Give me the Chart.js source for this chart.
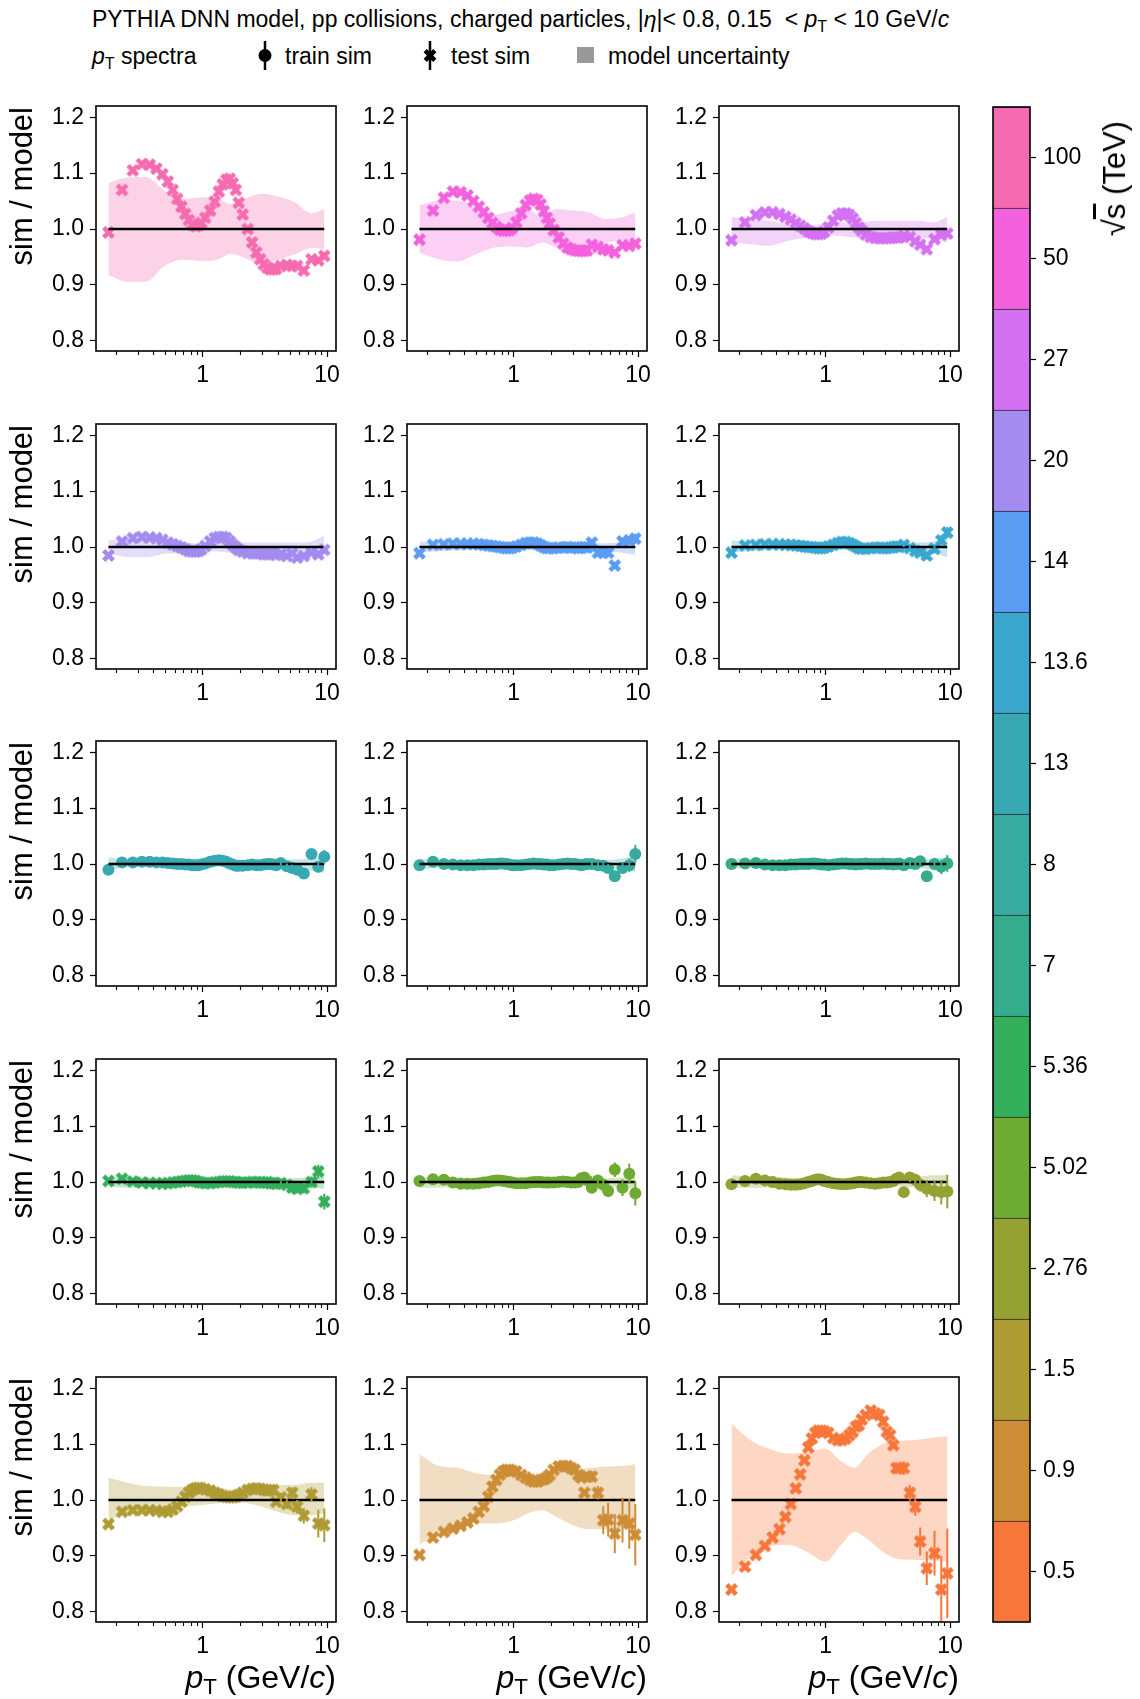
<!DOCTYPE html>
<html>
<head>
<meta charset="utf-8">
<script src="https://cdn.jsdelivr.net/npm/chart.js@4.4.1/dist/chart.umd.min.js"></script>
<style>
  body { margin: 0; background: #fff; width: 1140px; height: 1699px; position: relative; overflow: hidden;
         font-family: "Liberation Sans", Arial, sans-serif; color: #000; }
  canvas { position: absolute; }
  .txt { position: absolute; white-space: nowrap; line-height: 1; }
  .sub { font-size: 70%; position: relative; top: 0.28em; }
  .vlab { position: absolute; white-space: nowrap; line-height: 1; writing-mode: vertical-rl; transform: rotate(180deg); }
</style>
</head>
<body>
<div class="txt" style="left:92px; top:8px; font-size:23px;">PYTHIA DNN model, pp collisions, charged particles, |<i>η</i>|&lt; 0.8, 0.15 &nbsp;&lt; <i>p</i><span class="sub">T</span> &lt; 10 GeV/<i>c</i></div>
<div class="txt" style="left:92px; top:45px; font-size:23px;"><i>p</i><span class="sub">T</span> spectra</div>
<div class="txt" style="left:285px; top:45px; font-size:23px;">train sim</div>
<div class="txt" style="left:451px; top:45px; font-size:23px;">test sim</div>
<div class="txt" style="left:608px; top:45px; font-size:23px;">model uncertainty</div>
<svg id="legendMarks" width="1140" height="90" style="position:absolute;left:0;top:0"></svg>
<script>
// pT bin centres (GeV/c) shared by every panel
const ptBins = [0.175, 0.225, 0.275, 0.325, 0.375, 0.425, 0.475, 0.525, 0.575, 0.625,
                0.675, 0.725, 0.775, 0.825, 0.875, 0.925, 0.975,
                1.05, 1.15, 1.25, 1.35, 1.45, 1.55, 1.65, 1.75, 1.85, 1.95,
                2.1, 2.3, 2.5, 2.7, 2.9, 3.1, 3.3, 3.5, 3.7, 3.9,
                4.25, 4.75, 5.25, 5.75, 6.5, 7.5, 8.5, 9.5];
// grid on which the model uncertainty band is given
const bandPt = [0.175, 0.25, 0.35, 0.5, 0.7, 1.0, 1.3, 1.7, 2.2, 3.0, 4.0, 5.5, 7.5, 9.5];

const energyLabels = ['100', '50', '27', '20', '14', '13.6', '13', '8', '7', '5.36', '5.02', '2.76', '1.5', '0.9', '0.5'];
const energyColors = ['#f66baf', '#f461dd', '#d471f2', '#a38bf0', '#5b9cf3', '#3aa7cf', '#38a9b3', '#37ab9f',
                      '#35ad8c', '#33ae5b', '#6dab33', '#94a133', '#ae9b33', '#cd8d36', '#f7763a'];
// 'X' = test sim, 'o' = train sim
const markerKind = ['X', 'X', 'X', 'X', 'X', 'X', 'o', 'o', 'o', 'X', 'o', 'o', 'X', 'X', 'X'];

const yTicks = [0.8, 0.9, 1.0, 1.1, 1.2];
const xTicks = [1, 10];
const xMinorTicks = [0.2, 0.3, 0.4, 0.5, 0.6, 0.7, 0.8, 0.9, 2, 3, 4, 5, 6, 7, 8, 9];

// sim / model ratios per collision energy
const r100 = [0.994, 1.070, 1.105, 1.116, 1.115, 1.108, 1.098, 1.085, 1.070, 1.054,
              1.040, 1.027, 1.016, 1.008, 1.005, 1.007, 1.011,
              1.020, 1.033, 1.049, 1.067, 1.080, 1.088, 1.090, 1.082, 1.070, 1.047,
              1.026, 1.000, 0.976, 0.958, 0.946, 0.937, 0.931, 0.928, 0.928, 0.929,
              0.934, 0.936, 0.934, 0.934, 0.926, 0.946, 0.944, 0.952];
const r50 = [0.981, 1.033, 1.056, 1.067, 1.066, 1.060, 1.050, 1.040, 1.030, 1.020,
             1.011, 1.004, 0.999, 0.997, 0.997, 0.998, 1.002,
             1.012, 1.028, 1.043, 1.051, 1.054, 1.052, 1.044, 1.032, 1.020, 1.010,
             0.998, 0.985, 0.974, 0.967, 0.964, 0.962, 0.961, 0.961, 0.961, 0.962,
             0.972, 0.968, 0.964, 0.962, 0.958, 0.971, 0.970, 0.974];
const r27 = [0.980, 1.012, 1.025, 1.030, 1.030, 1.027, 1.022, 1.017, 1.011, 1.006,
             1.001, 0.996, 0.993, 0.991, 0.991, 0.992, 0.995,
             1.003, 1.015, 1.024, 1.028, 1.028, 1.025, 1.019, 1.011, 1.003, 0.997,
             0.990, 0.986, 0.984, 0.984, 0.984, 0.984, 0.984, 0.985, 0.985, 0.985,
             0.988, 0.986, 0.978, 0.972, 0.964, 0.982, 0.990, 0.992];
const r20 = [0.985, 1.010, 1.016, 1.018, 1.017, 1.016, 1.013, 1.008, 1.005, 1.002,
             0.999, 0.996, 0.993, 0.992, 0.992, 0.993, 0.996,
             1.002, 1.010, 1.016, 1.018, 1.018, 1.016, 1.010, 1.004, 0.999, 0.995,
             0.992, 0.989, 0.989, 0.989, 0.989, 0.987, 0.987, 0.989, 0.989, 0.986,
             0.987, 0.984, 0.989, 0.981, 0.984, 0.990, 0.987, 0.995];
const r14 = [0.989, 1.004, 1.005, 1.006, 1.006, 1.006, 1.006, 1.005, 1.004, 1.003,
             1.002, 1.001, 1.000, 0.999, 0.998, 0.998, 0.999,
             1.001, 1.004, 1.007, 1.008, 1.008, 1.006, 1.003, 1.000, 0.998, 0.998,
             0.998, 0.999, 0.999, 1.000, 0.999, 0.999, 0.998, 0.999, 1.000, 0.999,
             1.008, 0.990, 0.990, 0.990, 0.967, 1.010, 1.012, 1.015];
const r136 = [0.990, 1.003, 1.004, 1.005, 1.005, 1.005, 1.004, 1.004, 1.003, 1.002,
              1.001, 1.000, 1.000, 0.999, 0.998, 0.998, 0.999,
              1.001, 1.004, 1.007, 1.009, 1.009, 1.007, 1.004, 1.001, 0.998, 0.997,
              0.997, 0.998, 0.999, 0.999, 0.998, 0.998, 0.999, 1.000, 1.001, 1.000,
              1.004, 0.998, 0.993, 0.990, 0.985, 0.997, 1.012, 1.026];
const r13 = [0.990, 1.003, 1.003, 1.004, 1.004, 1.003, 1.003, 1.002, 1.001, 1.000,
             1.000, 0.999, 0.999, 0.998, 0.998, 0.998, 0.999,
             1.001, 1.004, 1.006, 1.007, 1.006, 1.004, 1.001, 0.999, 0.997, 0.997,
             0.997, 0.998, 0.999, 0.998, 0.998, 0.999, 1.000, 1.000, 0.999, 0.998,
             1.002, 0.996, 0.993, 0.990, 0.983, 1.018, 0.995, 1.013];
const r8 = [0.998, 1.004, 1.000, 0.999, 0.998, 0.998, 0.998, 0.999, 0.999, 1.000,
            1.000, 1.000, 1.001, 1.001, 1.000, 0.999, 0.998,
            0.998, 0.998, 0.999, 1.000, 1.001, 1.000, 1.000, 0.999, 0.999, 0.998,
            0.998, 0.999, 1.000, 1.001, 1.000, 1.000, 0.999, 0.998, 0.999, 1.000,
            1.000, 0.998, 0.997, 0.993, 0.978, 0.993, 0.998, 1.018];
const r7 = [1.000, 1.001, 1.002, 0.999, 0.998, 0.998, 0.998, 0.999, 0.999, 1.000,
            1.000, 1.000, 1.001, 1.001, 1.000, 0.999, 0.999,
            0.998, 0.999, 1.000, 1.001, 1.001, 1.000, 1.000, 0.999, 1.000, 1.000,
            1.001, 1.000, 1.000, 1.000, 1.001, 1.000, 1.000, 0.999, 1.000, 1.001,
            0.998, 1.002, 1.000, 1.005, 0.978, 1.000, 0.995, 1.001];
const r536 = [1.002, 1.006, 1.001, 0.999, 0.998, 0.998, 0.997, 0.998, 0.999, 1.000,
              1.001, 1.002, 1.003, 1.003, 1.002, 1.000, 0.999,
              0.998, 0.998, 0.999, 1.000, 1.001, 1.001, 1.001, 1.000, 1.000, 0.999,
              0.999, 0.999, 1.000, 1.000, 0.999, 0.999, 1.000, 0.998, 0.998, 0.997,
              0.998, 0.995, 0.990, 0.988, 0.989, 1.000, 1.019, 0.965];
const r502 = [1.002, 1.005, 1.004, 0.999, 0.997, 0.997, 0.997, 0.998, 0.999, 1.000,
              1.002, 1.003, 1.003, 1.002, 1.001, 1.000, 0.999,
              0.998, 0.998, 0.998, 0.999, 1.000, 1.000, 1.000, 0.999, 0.999, 0.999,
              0.999, 1.000, 1.001, 1.000, 0.999, 0.999, 1.000, 1.007, 1.008, 1.003,
              0.990, 1.003, 0.995, 0.984, 1.022, 0.990, 1.015, 0.980];
const r276 = [0.996, 1.002, 1.006, 1.003, 1.000, 0.997, 0.996, 0.995, 0.995, 0.996,
              0.998, 1.000, 1.002, 1.004, 1.005, 1.004, 1.002,
              1.000, 0.998, 0.997, 0.996, 0.996, 0.997, 0.998, 0.999, 1.000, 1.000,
              0.999, 0.998, 0.997, 0.998, 0.999, 0.999, 1.000, 1.002, 1.006, 1.008,
              0.982, 1.008, 1.004, 0.995, 0.988, 0.984, 0.982, 0.983];
const r15 = [0.957, 0.979, 0.982, 0.982, 0.982, 0.981, 0.979, 0.979, 0.983, 0.989,
             0.997, 1.006, 1.013, 1.018, 1.021, 1.022, 1.021,
             1.019, 1.017, 1.013, 1.010, 1.007, 1.006, 1.005, 1.005, 1.006, 1.009,
             1.013, 1.018, 1.020, 1.021, 1.020, 1.018, 1.017, 1.018, 1.018, 0.997,
             1.005, 0.993, 1.013, 0.988, 0.972, 1.010, 0.958, 0.955];
const r09 = [0.902, 0.933, 0.943, 0.949, 0.954, 0.960, 0.967, 0.979, 0.989, 1.006,
             1.024, 1.036, 1.045, 1.051, 1.054, 1.054, 1.052,
             1.051, 1.045, 1.040, 1.036, 1.033, 1.033, 1.036, 1.037, 1.040, 1.045,
             1.054, 1.060, 1.061, 1.061, 1.057, 1.054, 1.045, 1.040, 1.013, 1.042,
             1.042, 1.013, 0.964, 0.965, 0.940, 0.964, 0.958, 0.938];
const r05 = [0.840, 0.881, 0.902, 0.918, 0.933, 0.948, 0.970, 0.993, 1.021, 1.046,
             1.071, 1.094, 1.110, 1.120, 1.124, 1.124, 1.123,
             1.120, 1.111, 1.107, 1.107, 1.110, 1.116, 1.122, 1.131, 1.134, 1.144,
             1.152, 1.160, 1.155, 1.152, 1.140, 1.122, 1.116, 1.098, 1.057, 1.057,
             1.057, 1.013, 0.988, 0.926, 0.878, 0.905, 0.840, 0.869];

// statistical errors of the high-pT bins (4.25 ... 9.5 GeV/c)
const e100 = [0.003, 0.003, 0.004, 0.004, 0.005, 0.005, 0.006, 0.007];
const e50 = [0.003, 0.003, 0.004, 0.004, 0.005, 0.005, 0.006, 0.007];
const e27 = [0.003, 0.003, 0.004, 0.004, 0.005, 0.005, 0.006, 0.006];
const e20 = [0.003, 0.004, 0.004, 0.005, 0.005, 0.006, 0.006, 0.007];
const e14 = [0.004, 0.004, 0.005, 0.005, 0.006, 0.007, 0.008, 0.009];
const e136 = [0.004, 0.004, 0.005, 0.006, 0.007, 0.008, 0.009, 0.010];
const e13 = [0.004, 0.005, 0.006, 0.007, 0.008, 0.009, 0.010, 0.012];
const e8 = [0.004, 0.005, 0.006, 0.007, 0.008, 0.010, 0.012, 0.016];
const e7 = [0.004, 0.005, 0.006, 0.007, 0.009, 0.011, 0.013, 0.015];
const e536 = [0.005, 0.006, 0.007, 0.008, 0.009, 0.010, 0.012, 0.014];
const e502 = [0.006, 0.008, 0.009, 0.011, 0.013, 0.015, 0.018, 0.022];
const e276 = [0.006, 0.008, 0.010, 0.012, 0.015, 0.018, 0.022, 0.030];
const e15 = [0.008, 0.009, 0.010, 0.012, 0.014, 0.013, 0.025, 0.030];
const e09 = [0.010, 0.012, 0.025, 0.030, 0.035, 0.040, 0.045, 0.055];
const e05 = [0.012, 0.014, 0.016, 0.025, 0.030, 0.040, 0.060, 0.080];

// model uncertainty band (upper / lower edge on bandPt)
const up100 = [1.082, 1.092, 1.093, 1.068, 1.054, 1.057, 1.055, 1.045, 1.055, 1.063, 1.058, 1.048, 1.028, 1.036];
const lo100 = [0.918, 0.906, 0.906, 0.935, 0.945, 0.943, 0.945, 0.956, 0.948, 0.937, 0.945, 0.955, 0.966, 0.964];
const up50 = [1.042, 1.051, 1.051, 1.039, 1.026, 1.033, 1.036, 1.021, 1.036, 1.033, 1.030, 1.018, 1.021, 1.030];
const lo50 = [0.958, 0.946, 0.942, 0.955, 0.967, 0.969, 0.967, 0.976, 0.967, 0.964, 0.970, 0.976, 0.979, 0.982];
const up27 = [1.021, 1.018, 1.015, 1.009, 1.006, 1.010, 1.012, 1.009, 1.014, 1.015, 1.015, 1.015, 1.012, 1.022];
const lo27 = [0.976, 0.973, 0.970, 0.979, 0.985, 0.989, 0.988, 0.985, 0.985, 0.982, 0.985, 0.985, 0.982, 0.976];
const up20 = [1.012, 1.015, 1.014, 1.010, 1.008, 1.006, 1.008, 1.010, 1.008, 1.008, 1.008, 1.008, 1.010, 1.020];
const lo20 = [0.990, 0.982, 0.982, 0.988, 0.990, 0.992, 0.992, 0.990, 0.990, 0.992, 0.992, 0.990, 0.988, 0.985];
const up14 = [1.010, 1.008, 1.007, 1.006, 1.005, 1.005, 1.006, 1.006, 1.005, 1.005, 1.006, 1.007, 1.008, 1.012];
const lo14 = [0.990, 0.993, 0.994, 0.995, 0.995, 0.995, 0.995, 0.995, 0.995, 0.995, 0.994, 0.993, 0.990, 0.986];
const up136 = [1.012, 1.008, 1.007, 1.006, 1.005, 1.005, 1.006, 1.006, 1.005, 1.005, 1.006, 1.008, 1.010, 1.016];
const lo136 = [0.990, 0.993, 0.994, 0.995, 0.995, 0.995, 0.995, 0.995, 0.995, 0.995, 0.994, 0.992, 0.988, 0.982];
const up13 = [1.012, 1.008, 1.006, 1.005, 1.005, 1.005, 1.006, 1.006, 1.005, 1.005, 1.006, 1.008, 1.010, 1.014];
const lo13 = [0.990, 0.994, 0.995, 0.996, 0.996, 0.996, 0.996, 0.996, 0.996, 0.995, 0.994, 0.992, 0.988, 0.984];
const up8 = [1.010, 1.007, 1.006, 1.005, 1.005, 1.005, 1.005, 1.005, 1.005, 1.005, 1.006, 1.007, 1.010, 1.014];
const lo8 = [0.990, 0.994, 0.995, 0.996, 0.996, 0.996, 0.996, 0.996, 0.996, 0.995, 0.994, 0.993, 0.990, 0.986];
const up7 = [1.010, 1.008, 1.006, 1.005, 1.005, 1.005, 1.005, 1.005, 1.005, 1.005, 1.006, 1.007, 1.010, 1.012];
const lo7 = [0.992, 0.994, 0.995, 0.996, 0.996, 0.996, 0.996, 0.996, 0.996, 0.995, 0.994, 0.993, 0.990, 0.988];
const up536 = [1.008, 1.008, 1.008, 1.006, 1.005, 1.005, 1.005, 1.005, 1.005, 1.005, 1.006, 1.007, 1.008, 1.010];
const lo536 = [0.992, 0.990, 0.992, 0.994, 0.995, 0.995, 0.995, 0.995, 0.995, 0.995, 0.994, 0.993, 0.990, 0.988];
const up502 = [1.008, 1.010, 1.009, 1.006, 1.005, 1.005, 1.005, 1.005, 1.005, 1.005, 1.006, 1.007, 1.008, 1.010];
const lo502 = [0.990, 0.990, 0.992, 0.994, 0.995, 0.995, 0.995, 0.995, 0.995, 0.995, 0.994, 0.993, 0.990, 0.988];
const up276 = [1.012, 1.010, 1.010, 1.008, 1.006, 1.005, 1.005, 1.005, 1.005, 1.006, 1.008, 1.010, 1.012, 1.012];
const lo276 = [0.990, 0.990, 0.990, 0.992, 0.994, 0.995, 0.995, 0.995, 0.995, 0.994, 0.992, 0.990, 0.988, 0.988];
const up15 = [1.040, 1.031, 1.025, 1.024, 1.024, 1.024, 1.023, 1.019, 1.024, 1.027, 1.027, 1.027, 1.031, 1.031];
const lo15 = [0.964, 0.976, 0.982, 0.985, 0.988, 0.991, 0.994, 0.997, 0.995, 0.988, 0.979, 0.973, 0.973, 0.976];
const up09 = [1.082, 1.061, 1.058, 1.048, 1.045, 1.045, 1.048, 1.037, 1.048, 1.055, 1.057, 1.060, 1.061, 1.064];
const lo09 = [0.920, 0.940, 0.952, 0.958, 0.958, 0.964, 0.976, 0.982, 0.970, 0.955, 0.948, 0.948, 0.949, 0.949];
const up05 = [1.137, 1.107, 1.092, 1.083, 1.085, 1.092, 1.071, 1.058, 1.083, 1.102, 1.106, 1.108, 1.112, 1.114];
const lo05 = [0.864, 0.899, 0.917, 0.920, 0.908, 0.890, 0.917, 0.943, 0.929, 0.905, 0.894, 0.893, 0.892, 0.890];

const ratios = [r100, r50, r27, r20, r14, r136, r13, r8, r7, r536, r502, r276, r15, r09, r05];
const errTails = [e100, e50, e27, e20, e14, e136, e13, e8, e7, e536, e502, e276, e15, e09, e05];
const bandUp = [up100, up50, up27, up20, up14, up136, up13, up8, up7, up536, up502, up276, up15, up09, up05];
const bandLo = [lo100, lo50, lo27, lo20, lo14, lo136, lo13, lo8, lo7, lo536, lo502, lo276, lo15, lo09, lo05];

const FONT = '"Liberation Sans", Arial, sans-serif';
const TICK_FONT = 23;
Chart.defaults.font.family = FONT;
Chart.defaults.color = '#000';

// plot area of each panel in page pixels
const PLOT_W = 240, PLOT_H = 245;
const colLeft = [96, 407, 719];
const rowTop = [106, 424, 741, 1059, 1377];
const PAD_L = 70, PAD_T = 10;

function withAlpha(hex, a) {
    const n = parseInt(hex.slice(1), 16);
    return 'rgba(' + (n >> 16) + ',' + ((n >> 8) & 255) + ',' + (n & 255) + ',' + a + ')';
}

// keep the plot area fixed: no extra room for overhanging tick labels
function noOverhang(s) {
    s.paddingTop = 0; s.paddingBottom = 0; s.paddingLeft = 0; s.paddingRight = 0;
}

// filled "X" marker, same outline as matplotlib's 'X'
const X_VERTS = [[-1, -2], [0, -1], [1, -2], [2, -1], [1, 0], [2, 1], [1, 2], [0, 1], [-1, 2], [-2, 1], [-1, 0], [-2, -1]];
function makeXMarker(color, k) {
    const size = Math.ceil(4 * k) + 2;
    const c = document.createElement('canvas');
    c.width = size; c.height = size;
    const g = c.getContext('2d');
    const m = size / 2;
    g.fillStyle = color;
    g.beginPath();
    X_VERTS.forEach(([a, b], i) => i ? g.lineTo(m + a * k, m + b * k) : g.moveTo(m + a * k, m + b * k));
    g.closePath();
    g.fill();
    return c;
}

// frame, minor x ticks and error bars
const panelDecor = {
    id: 'panelDecor',
    afterDatasetsDraw(chart, args, opts) {
        const ctx = chart.ctx, a = chart.chartArea, ys = chart.scales.y;
        const meta = chart.getDatasetMeta(3);
        ctx.save();
        ctx.beginPath();
        ctx.rect(a.left, a.top, a.right - a.left, a.bottom - a.top);
        ctx.clip();
        ctx.strokeStyle = opts.color;
        ctx.lineWidth = 2;
        opts.err.forEach((e, i) => {
            if (!e) return;
            const p = meta.data[i];
            ctx.beginPath();
            ctx.moveTo(p.x, ys.getPixelForValue(opts.vals[i] - e));
            ctx.lineTo(p.x, ys.getPixelForValue(opts.vals[i] + e));
            ctx.stroke();
        });
        ctx.restore();
    },
    afterDraw(chart) {
        const ctx = chart.ctx, a = chart.chartArea, xs = chart.scales.x;
        ctx.save();
        ctx.strokeStyle = '#000';
        ctx.lineWidth = 1.1;
        xMinorTicks.forEach(v => {
            const px = Math.round(xs.getPixelForValue(v)) + 0.5;
            ctx.beginPath();
            ctx.moveTo(px, a.bottom);
            ctx.lineTo(px, a.bottom + 4);
            ctx.stroke();
        });
        ctx.lineWidth = 1.6;
        ctx.strokeRect(a.left, a.top, a.right - a.left, a.bottom - a.top);
        ctx.restore();
    }
};

function drawPanel(idx) {
    const row = Math.floor(idx / 3), col = idx % 3;
    const cv = document.createElement('canvas');
    cv.width = PAD_L + PLOT_W + 15;
    cv.height = PAD_T + PLOT_H + 45;
    cv.style.left = (colLeft[col] - PAD_L) + 'px';
    cv.style.top = (rowTop[row] - PAD_T) + 'px';
    document.body.appendChild(cv);

    const color = energyColors[idx];
    const vals = ratios[idx];
    const tail = errTails[idx];
    const err = ptBins.map((_, i) => {
        const k = i - (ptBins.length - tail.length);
        return k >= 0 ? tail[k] : 0;
    });
    const style = markerKind[idx] === 'X' ? makeXMarker(color, 3.2) : 'circle';

    new Chart(cv, {
        type: 'scatter',
        data: {
            datasets: [
                {
                    data: bandPt.map((x, i) => ({ x, y: bandUp[idx][i] })),
                    showLine: true, fill: '+1', backgroundColor: withAlpha(color, 0.3),
                    borderColor: 'transparent', borderWidth: 0, pointRadius: 0,
                    cubicInterpolationMode: 'monotone', order: 3
                },
                {
                    data: bandPt.map((x, i) => ({ x, y: bandLo[idx][i] })),
                    showLine: true, fill: false,
                    borderColor: 'transparent', borderWidth: 0, pointRadius: 0,
                    cubicInterpolationMode: 'monotone', order: 3
                },
                {
                    data: [{ x: ptBins[0], y: 1 }, { x: ptBins[ptBins.length - 1], y: 1 }],
                    showLine: true, borderColor: '#000', borderWidth: 2.6, pointRadius: 0, order: 0
                },
                {
                    data: ptBins.map((x, i) => ({ x, y: vals[i] })),
                    pointStyle: style, pointRadius: 6,
                    backgroundColor: color, borderColor: color, borderWidth: 0, order: 1
                }
            ]
        },
        options: {
            responsive: false,
            animation: false,
            events: [],
            layout: { padding: { left: 10, top: PAD_T, right: 15, bottom: 5 } },
            plugins: {
                legend: { display: false },
                tooltip: { enabled: false },
                panelDecor: { color, vals, err }
            },
            scales: {
                x: {
                    type: 'logarithmic', min: 0.139, max: 11.8,
                    afterBuildTicks: s => { s.ticks = xTicks.map(v => ({ value: v })); },
                    afterFit: s => { s.height = 40; noOverhang(s); },
                    ticks: { callback: v => String(v), font: { size: TICK_FONT }, padding: 5, maxRotation: 0, autoSkip: false },
                    grid: { drawOnChartArea: false, drawTicks: true, tickLength: 6, tickColor: '#000', tickWidth: 1.2 },
                    border: { display: false }
                },
                y: {
                    min: 0.782, max: 1.22,
                    afterBuildTicks: s => { s.ticks = yTicks.map(v => ({ value: v })); },
                    afterFit: s => { s.width = 60; noOverhang(s); },
                    ticks: { callback: v => v.toFixed(1), font: { size: TICK_FONT }, padding: 6 },
                    grid: { drawOnChartArea: false, drawTicks: true, tickLength: 6, tickColor: '#000', tickWidth: 1.2 },
                    border: { display: false }
                }
            }
        },
        plugins: [panelDecor]
    });
}

for (let i = 0; i < ratios.length; i++) drawPanel(i);

// axis titles
for (let r = 0; r < rowTop.length; r++) {
    const d = document.createElement('div');
    d.className = 'vlab';
    d.style.left = '6px';
    d.style.top = (rowTop[r] + 1) + 'px';
    d.style.fontSize = '31px';
    d.textContent = 'sim / model';
    document.body.appendChild(d);
}
for (let c = 0; c < colLeft.length; c++) {
    const d = document.createElement('div');
    d.className = 'txt';
    d.style.left = (colLeft[c] + PLOT_W - 300) + 'px';
    d.style.width = '300px';
    d.style.textAlign = 'right';
    d.style.top = '1661px';
    d.style.fontSize = '32px';
    d.innerHTML = '<i>p</i><span class="sub">T</span> (GeV/<i>c</i>)';
    document.body.appendChild(d);
}

// colour bar: one stacked segment per energy, lowest energy at the bottom
const cbLabels = energyLabels.slice().reverse();
const cbColors = energyColors.slice().reverse();
const CB_LEFT = 993, CB_TOP = 107, CB_W = 37, CB_H = 1515;
const cbFrame = {
    id: 'cbFrame',
    afterDraw(chart) {
        const ctx = chart.ctx, a = chart.chartArea;
        ctx.save();
        ctx.strokeStyle = '#000';
        ctx.lineWidth = 1.6;
        ctx.strokeRect(a.left, a.top, a.right - a.left, a.bottom - a.top);
        ctx.restore();
    }
};
const cbCanvas = document.createElement('canvas');
cbCanvas.width = 10 + CB_W + 70 + 5;
cbCanvas.height = CB_H + 20;
cbCanvas.style.left = (CB_LEFT - 10) + 'px';
cbCanvas.style.top = (CB_TOP - 10) + 'px';
document.body.appendChild(cbCanvas);
new Chart(cbCanvas, {
    type: 'bar',
    data: {
        labels: [''],
        datasets: cbLabels.map((e, i) => ({
            label: e, data: [1], backgroundColor: cbColors[i],
            borderColor: '#2a2a2a', borderWidth: { top: 1, bottom: 0, left: 0, right: 0 }, borderSkipped: false,
            barPercentage: 1, categoryPercentage: 1
        }))
    },
    options: {
        responsive: false,
        animation: false,
        events: [],
        layout: { padding: { left: 10, top: 10, right: 5, bottom: 10 } },
        plugins: { legend: { display: false }, tooltip: { enabled: false } },
        scales: {
            x: { stacked: true, display: false },
            y: {
                stacked: true, position: 'right', min: 0, max: cbLabels.length,
                afterBuildTicks: s => { s.ticks = cbLabels.map((e, i) => ({ value: i + 0.5 })); },
                afterFit: s => { s.width = 70; noOverhang(s); },
                ticks: { callback: (v, i) => cbLabels[i], font: { size: TICK_FONT }, padding: 7 },
                grid: { drawOnChartArea: false, drawTicks: true, tickLength: 6, tickColor: '#000', tickWidth: 1.2 },
                border: { display: false }
            }
        }
    },
    plugins: [cbFrame]
});

const cbTitle = document.createElement('div');
cbTitle.className = 'vlab';
cbTitle.style.left = '1099px';
cbTitle.style.top = '121px';
cbTitle.style.fontSize = '31px';
cbTitle.innerHTML = '√<span style="text-decoration:overline">s</span> (TeV)';
document.body.appendChild(cbTitle);

// legend symbols
const svgNS = 'http://www.w3.org/2000/svg';
const legendSvg = document.getElementById('legendMarks');
function svgEl(tag, attrs) {
    const el = document.createElementNS(svgNS, tag);
    Object.keys(attrs).forEach(k => el.setAttribute(k, attrs[k]));
    legendSvg.appendChild(el);
}
svgEl('line', { x1: 265, y1: 41, x2: 265, y2: 70, stroke: '#000', 'stroke-width': 2.5 });
svgEl('circle', { cx: 265, cy: 55.5, r: 6.5, fill: '#000' });
svgEl('line', { x1: 430, y1: 41, x2: 430, y2: 70, stroke: '#000', 'stroke-width': 2.5 });
svgEl('polygon', { points: X_VERTS.map(([a, b]) => (430 + a * 3.2) + ',' + (55.5 + b * 3.2)).join(' '), fill: '#000' });
svgEl('rect', { x: 577, y: 47, width: 17, height: 16, fill: '#999' });
</script>
</body>
</html>
